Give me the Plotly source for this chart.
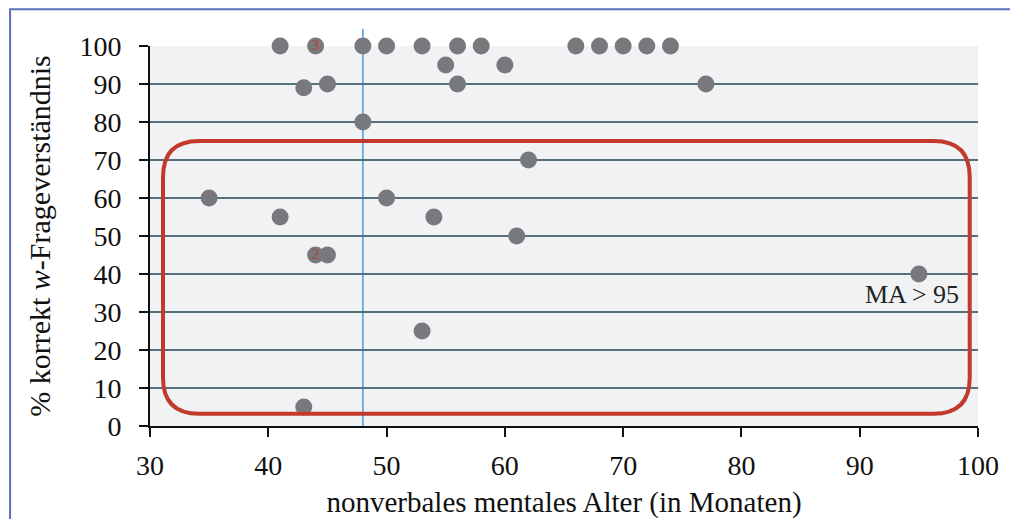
import plotly.graph_objects as go

# Data
alter = [41, 44, 48, 50, 53, 56, 58, 66, 68, 70, 72, 74,
         55, 60,
         43, 45, 56, 77,
         48, 62, 35, 50, 41, 54, 61, 44, 45, 95, 53, 43]
korrekt = [100, 100, 100, 100, 100, 100, 100, 100, 100, 100, 100, 100,
           95, 95,
           89, 90, 90, 90,
           80, 70, 60, 60, 55, 55, 50, 45, 45, 40, 25, 5]
count_x = [44, 44]
count_y = [100, 45]
count_lbl = ["3", "2"]
x_ticks = [30, 40, 50, 60, 70, 80, 90, 100]
y_ticks = [0, 10, 20, 30, 40, 50, 60, 70, 80, 90, 100]
cut_x = 48
box_x = [31.1, 99.3]
box_y = [3.2, 75]

SERIF = "Liberation Serif, Times New Roman, serif"

fig = go.Figure()
fig.add_trace(go.Scatter(
    x=alter, y=korrekt, mode="markers",
    marker=dict(size=17, color="#77797c"),
    cliponaxis=False, showlegend=False, hoverinfo="x+y"))
fig.add_trace(go.Scatter(
    x=count_x, y=count_y, mode="text", text=count_lbl,
    textfont=dict(family=SERIF, size=14, color="#c0392b"),
    cliponaxis=False, showlegend=False, hoverinfo="skip"))

# rounded red rectangle (radius ~36 px)
px_x = 828 / 70.0
px_y = 380 / 100.0
rx = 36 / px_x
ry = 36 / px_y
x0, x1 = box_x
y0, y1 = box_y
path = (f"M {x0+rx},{y0} L {x1-rx},{y0} Q {x1},{y0} {x1},{y0+ry} "
        f"L {x1},{y1-ry} Q {x1},{y1} {x1-rx},{y1} L {x0+rx},{y1} "
        f"Q {x0},{y1} {x0},{y1-ry} L {x0},{y0+ry} Q {x0},{y0} {x0+rx},{y0} Z")
fig.add_shape(type="path", path=path, xref="x", yref="y",
              line=dict(color="#c23a2c", width=4), layer="above")

# vertical blue line
fig.add_shape(type="line", xref="x", yref="paper", x0=cut_x, x1=cut_x,
              y0=0, y1=1.045, line=dict(color="#4a9be0", width=1.5), layer="below")

# outer blue frame
fig.add_shape(type="path", xref="paper", yref="paper",
              path="M 1.2,1.097 L -0.169,1.097 L -0.169,-0.5",
              line=dict(color="#5b6fb8", width=2))

fig.add_annotation(x=94.4, y=34.5, xref="x", yref="y", text="MA &gt; 95",
                   showarrow=False, font=dict(family=SERIF, size=26, color="#222"))

fig.update_layout(
    width=1010, height=511,
    margin=dict(l=142, r=40, t=38, b=93),
    paper_bgcolor="white", plot_bgcolor="#f0f2f4",
    font=dict(family=SERIF, color="#111"),
    xaxis=dict(range=[30, 100], tickvals=x_ticks, showgrid=False, zeroline=False,
               showline=True, linecolor="#111", linewidth=2, automargin=False,
               ticks="outside", ticklen=9, tickwidth=2, tickcolor="#111",
               tickfont=dict(family=SERIF, size=28), ticklabelstandoff=4,
               title=dict(text="nonverbales mentales Alter (in Monaten)",
                          font=dict(family=SERIF, size=29), standoff=22)),
    yaxis=dict(range=[0, 100], tickvals=y_ticks, showgrid=True,
               gridcolor="#55707c", gridwidth=2, zeroline=False,
               showline=True, linecolor="#111", linewidth=2, automargin=False,
               ticks="outside", ticklen=9, tickwidth=2, tickcolor="#111",
               tickfont=dict(family=SERIF, size=28), ticklabelstandoff=12,
               title=dict(text="% korrekt <i>w</i>-Frageverständnis",
                          font=dict(family=SERIF, size=30), standoff=20)),
)

fig.write_html("out.html")
